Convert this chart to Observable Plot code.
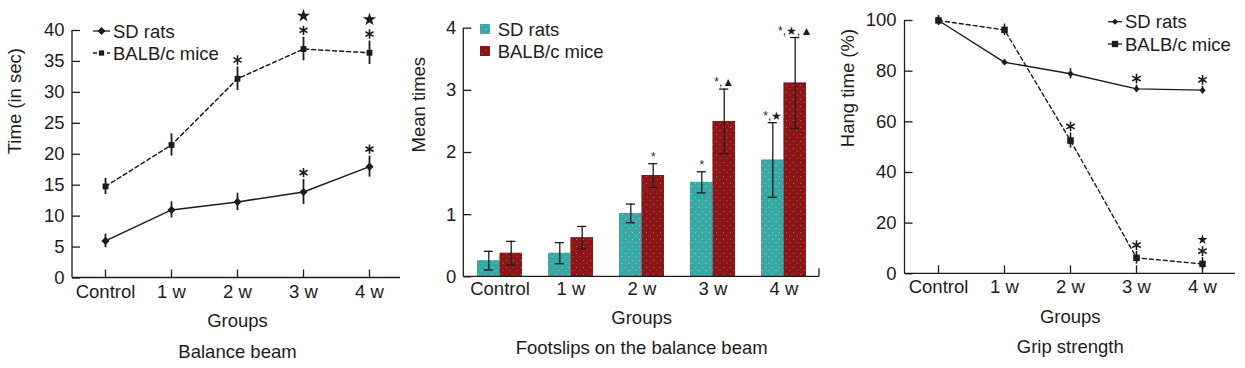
<!DOCTYPE html>
<html><head><meta charset="utf-8">
<script src="https://cdn.jsdelivr.net/npm/d3@7"></script>
<script src="https://cdn.jsdelivr.net/npm/@observablehq/plot@0.6"></script>
<style>
body{margin:0;background:#fff;}
#wrap{position:relative;width:1245px;height:368px;overflow:hidden;background:#fff;}
#wrap > div{position:absolute;top:0;}
</style></head><body>
<div id="wrap"><div id="p1" style="left:0px"></div><div id="p2" style="left:400px"></div><div id="p3" style="left:820px"></div></div>
<script>
// ---------- data ----------
const groups = ["Control", "1 w", "2 w", "3 w", "4 w"];
const seriesNames = ["SD rats", "BALB/c mice"];

// Balance beam: time (in sec)
const beamSD = [6.0, 11.0, 12.3, 13.9, 18.0];
const beamSDErr = [1.1, 1.3, 1.4, 2.0, 1.7];
const beamBALB = [14.8, 21.5, 32.2, 37.0, 36.4];
const beamBALBErr = [1.3, 1.8, 1.9, 1.9, 1.9];
const beamTicks = [0, 5, 10, 15, 20, 25, 30, 35, 40];
const beamSig = [["3 w", "SD rats", "*"], ["4 w", "SD rats", "*"], ["2 w", "BALB/c mice", "*"], ["3 w", "BALB/c mice", "*★"], ["4 w", "BALB/c mice", "*★"]];

// Footslips on the balance beam: mean times
const footSD = [0.26, 0.38, 1.02, 1.52, 1.88];
const footSDErr = [0.15, 0.17, 0.15, 0.17, 0.6];
const footBALB = [0.38, 0.63, 1.63, 2.5, 3.12];
const footBALBErr = [0.19, 0.18, 0.19, 0.52, 0.73];
const footTicks = [0, 1, 2, 3, 4];
const footSig = [["2 w", "BALB/c mice", "*"], ["3 w", "SD rats", "*"], ["3 w", "BALB/c mice", "*,▲"], ["4 w", "SD rats", "*,★"], ["4 w", "BALB/c mice", "*,★,▲"]];

// Grip strength: hang time (%)
const gripSD = [100, 83.5, 79, 73, 72.5];
const gripSDErr = [1.5, 1.0, 2.0, 1.5, 1.5];
const gripBALB = [100, 96.3, 52.6, 6.3, 3.9];
const gripBALBErr = [2.0, 2.3, 3.0, 2.5, 2.5];
const gripTicks = [0, 20, 40, 60, 80, 100];
const gripSig = [["3 w", "SD rats", "*"], ["4 w", "SD rats", "*"], ["2 w", "BALB/c mice", "*"], ["3 w", "BALB/c mice", "*"], ["4 w", "BALB/c mice", "*★"]];

// ---------- helpers ----------
const FONT = '"Liberation Sans", Arial, Helvetica, sans-serif';
const INK = "#1f1b1c";
const TEAL = "#38a8a4";
const RED = "#8c1518";
const FS = 18.5;
const H = 368;

function rows(vals, errs, s) {
  return groups.map((g, i) => ({group: g, series: s, value: vals[i], err: errs[i], top: vals[i] + errs[i], bottom: vals[i] - errs[i]}));
}
function sigRows(sig, data, ch) {
  return sig.filter(d => d[2].includes(ch)).map(([g, s, lab]) => {
    const r = data.find(d => d.group === g && d.series === s);
    return {...r, label: lab};
  });
}
function axisFrame(opts = {}) {
  return (index, scales, values, dims) => {
    const {width, height, marginLeft: ml, marginRight: mr, marginTop: mt, marginBottom: mb} = dims;
    const g = d3.create("svg:g").attr("stroke", INK).attr("stroke-width", 1.3).attr("fill", "none");
    g.append("line").attr("x1", ml).attr("x2", ml).attr("y1", mt).attr("y2", height - mb);
    g.append("line").attr("x1", ml).attr("x2", width - mr).attr("y1", height - mb).attr("y2", height - mb);
    if (opts.endTick) g.append("line").attr("x1", width - mr).attr("x2", width - mr).attr("y1", height - mb - 8).attr("y2", height - mb);
    return g.node();
  };
}
function lineLegend(items, {x, y, step, len}) {
  return () => {
    const g = d3.create("svg:g");
    items.forEach((it, i) => {
      const yy = y + i * step;
      g.append("line").attr("x1", x).attr("x2", x + len).attr("y1", yy).attr("y2", yy)
        .attr("stroke", INK).attr("stroke-width", 1.3).attr("stroke-dasharray", it.dash || null);
      g.append("path").attr("d", d3.symbol(it.symbol, it.size)())
        .attr("transform", `translate(${x + len / 2},${yy})`).attr("fill", INK);
      g.append("text").attr("x", x + len + 3).attr("y", yy).attr("dy", "0.36em")
        .attr("text-anchor", "start").attr("font-size", FS).attr("fill", INK).text(it.label);
    });
    return g.node();
  };
}
function boxLegend(items, {x, y, step, size, gap}) {
  return () => {
    const g = d3.create("svg:g");
    items.forEach((it, i) => {
      const yy = y + i * step;
      g.append("rect").attr("x", x).attr("y", yy - size / 2).attr("width", size).attr("height", size).attr("fill", it.fill);
      g.append("text").attr("x", x + size + gap).attr("y", yy).attr("dy", "0.36em")
        .attr("text-anchor", "start").attr("font-size", FS).attr("fill", INK).text(it.label);
    });
    return g.node();
  };
}
function patterns() {
  return () => {
    const defs = d3.create("svg:defs");
    const mk = (id, bg, dot, dot2) => {
      const p = defs.append("pattern").attr("id", id).attr("patternUnits", "userSpaceOnUse").attr("width", 7).attr("height", 7);
      p.append("rect").attr("width", 7).attr("height", 7).attr("fill", bg);
      p.append("rect").attr("x", 1).attr("y", 1).attr("width", 1).attr("height", 1).attr("fill", dot).attr("opacity", 0.75);
      p.append("rect").attr("x", 4.5).attr("y", 4).attr("width", 1).attr("height", 1).attr("fill", dot2).attr("opacity", 0.6);
    };
    mk("patTeal", TEAL, "#e7b7c4", "#cfe9e6");
    mk("patRed", RED, "#8fa06a", "#c07a6a");
    return defs.node();
  };
}
function style() {
  return {fontFamily: FONT, fontSize: FS + "px", color: INK, background: "white", overflow: "visible"};
}

// ---------- Panel 1: Balance beam ----------
(() => {
  const sd = rows(beamSD, beamSDErr, seriesNames[0]);
  const mb = rows(beamBALB, beamBALBErr, seriesNames[1]);
  const all = sd.concat(mb);
  const W = 410, ml = 72, mr = 8, mt = 30, mbm = 90.5;
  const fw = W - ml - mr, fh = H - mt - mbm;
  const chart = Plot.plot({
    width: W, height: H, marginLeft: ml, marginRight: mr, marginTop: mt, marginBottom: mbm,
    x: {type: "point", domain: groups, padding: 0.5, axis: null},
    y: {domain: [0, 40], axis: null},
    style: style(),
    marks: [
      axisFrame(),
      Plot.tickY(beamTicks, {y: d => d, insetRight: fw - 8, stroke: INK, strokeWidth: 1.3}),
      Plot.tickX(groups, {x: d => d, insetTop: fh - 8, stroke: INK, strokeWidth: 1.3}),
      Plot.axisY({ticks: beamTicks, tickSize: 0, tickPadding: 8, fontSize: FS, label: null, tickFormat: d3.format("d")}),
      Plot.text(groups, {x: d => d, text: d => d, frameAnchor: "bottom", dy: 19.5, fontSize: FS, fill: INK}),
      Plot.line(sd, {x: "group", y: "value", stroke: INK, strokeWidth: 1.5}),
      Plot.line(mb, {x: "group", y: "value", stroke: INK, strokeWidth: 1.5, strokeDasharray: "4,3"}),
      Plot.ruleX(all, {x: "group", y1: "bottom", y2: "top", stroke: INK, strokeWidth: 1.8}),
      Plot.dot(sd, {x: "group", y: "value", symbol: "diamond2", r: 3.7, fill: INK}),
      Plot.dot(mb, {x: "group", y: "value", symbol: "square", r: 3.3, fill: INK}),
      Plot.dot(sigRows(beamSig, all, "*"), {x: "group", y: "top", dy: -7, symbol: "asterisk", r: 4.4, stroke: INK, strokeWidth: 1.6, fill: "none"}),
      Plot.dot(sigRows(beamSig, all, "★"), {x: "group", y: "top", dy: -21.5, symbol: "star", r: 4.2, fill: INK}),
      lineLegend([
        {label: seriesNames[0], symbol: d3.symbolDiamond2, size: 40},
        {label: seriesNames[1], symbol: d3.symbolSquare, size: 28, dash: "4,3"}
      ], {x: 93, y: 31, step: 22, len: 17}),
      Plot.text(["Time (in sec)"], {text: d => d, frameAnchor: "left", rotate: -90, dx: -57, fontSize: FS, fill: INK}),
      Plot.text(["Groups"], {text: d => d, frameAnchor: "bottom", dy: 49, fontSize: FS, fill: INK}),
      Plot.text(["Balance beam"], {text: d => d, frameAnchor: "bottom", dy: 80, fontSize: FS, fill: INK})
    ]
  });
  document.getElementById("p1").append(chart);
})();

// ---------- Panel 2: Footslips ----------
(() => {
  const sd = rows(footSD, footSDErr, seriesNames[0]);
  const mb = rows(footBALB, footBALBErr, seriesNames[1]);
  const W = 425, ml = 63.3, mr = 6, mt = 27.7, mbm = 91.7;
  const fw = W - ml - mr, fh = H - mt - mbm;
  const pin = 0.37;
  const bw = fw / groups.length * (1 - pin);
  const half = bw / 2, cap = 4.5;
  const cSD = half / 2, cMB = half + half / 2;
  const capSD = {insetLeft: cSD - cap, insetRight: bw - cSD - cap};
  const capMB = {insetLeft: cMB - cap, insetRight: bw - cMB - cap};
  const chart = Plot.plot({
    width: W, height: H, marginLeft: ml, marginRight: mr, marginTop: mt, marginBottom: mbm,
    x: {type: "band", domain: groups, paddingInner: pin, paddingOuter: pin / 2, axis: null},
    y: {domain: [0, 4], axis: null},
    style: style(),
    marks: [
      patterns(),
      Plot.barY(sd, {x: "group", y: "value", fill: "url(#patTeal)", insetRight: half}),
      Plot.barY(mb, {x: "group", y: "value", fill: "url(#patRed)", insetLeft: half}),
      axisFrame({endTick: true}),
      Plot.tickY(footTicks, {y: d => d, insetRight: fw - 8, stroke: INK, strokeWidth: 1.3}),
      Plot.axisY({ticks: footTicks, tickSize: 0, tickPadding: 7.5, fontSize: FS, label: null, tickFormat: d3.format("d")}),
      Plot.text(groups, {x: d => d, text: d => d, frameAnchor: "bottom", dy: 18, fontSize: FS, fill: INK}),
      Plot.ruleX(sd, {x: "group", y1: "bottom", y2: "top", dx: cSD - half, stroke: INK, strokeWidth: 1.3}),
      Plot.ruleX(mb, {x: "group", y1: "bottom", y2: "top", dx: cMB - half, stroke: INK, strokeWidth: 1.3}),
      Plot.tickY(sd, {x: "group", y: "top", ...capSD, stroke: INK, strokeWidth: 1.3}),
      Plot.tickY(sd, {x: "group", y: "bottom", ...capSD, stroke: INK, strokeWidth: 1.3}),
      Plot.tickY(mb, {x: "group", y: "top", ...capMB, stroke: INK, strokeWidth: 1.3}),
      Plot.tickY(mb, {x: "group", y: "bottom", ...capMB, stroke: INK, strokeWidth: 1.3}),
      Plot.text(sigRows(footSig, sd, "*"), {x: "group", y: "top", text: "label", dx: cSD - half, dy: -3, lineAnchor: "bottom", fontSize: 12, fill: INK}),
      Plot.text(sigRows(footSig, mb, "*"), {x: "group", y: "top", text: "label", dx: cMB - half, dy: -3, lineAnchor: "bottom", fontSize: 12, fill: INK}),
      boxLegend([
        {label: seriesNames[0], fill: "url(#patTeal)"},
        {label: seriesNames[1], fill: "url(#patRed)"}
      ], {x: 80, y: 29, step: 22, size: 10, gap: 7.7}),
      Plot.text(["Mean times"], {text: d => d, frameAnchor: "left", rotate: -90, dx: -44.3, fontSize: FS, fill: INK}),
      Plot.text(["Groups"], {text: d => d, frameAnchor: "bottom", dy: 47, fontSize: FS, fill: INK}),
      Plot.text(["Footslips on the balance beam"], {text: d => d, frameAnchor: "bottom", dy: 77.5, fontSize: FS, fill: INK})
    ]
  });
  document.getElementById("p2").append(chart);
})();

// ---------- Panel 3: Grip strength ----------
(() => {
  const sd = rows(gripSD, gripSDErr, seriesNames[0]);
  const mb = rows(gripBALB, gripBALBErr, seriesNames[1]);
  const all = sd.concat(mb);
  const W = 425, ml = 84.5, mr = 10, mt = 20, mbm = 94.7;
  const fw = W - ml - mr, fh = H - mt - mbm;
  const chart = Plot.plot({
    width: W, height: H, marginLeft: ml, marginRight: mr, marginTop: mt, marginBottom: mbm,
    x: {type: "point", domain: groups, padding: 0.5, axis: null},
    y: {domain: [0, 100], axis: null},
    style: style(),
    marks: [
      axisFrame(),
      Plot.tickY(gripTicks, {y: d => d, insetRight: fw - 8, stroke: INK, strokeWidth: 1.3}),
      Plot.tickX(groups, {x: d => d, insetTop: fh - 8, stroke: INK, strokeWidth: 1.3}),
      Plot.axisY({ticks: gripTicks, tickSize: 0, tickPadding: 8.5, fontSize: FS, label: null, tickFormat: d3.format("d")}),
      Plot.text(groups, {x: d => d, text: d => d, frameAnchor: "bottom", dy: 19.5, fontSize: FS, fill: INK}),
      Plot.line(sd, {x: "group", y: "value", stroke: INK, strokeWidth: 1.4}),
      Plot.line(mb, {x: "group", y: "value", stroke: INK, strokeWidth: 1.4, strokeDasharray: "4,3"}),
      Plot.ruleX(all, {x: "group", y1: "bottom", y2: "top", stroke: INK, strokeWidth: 1.6}),
      Plot.dot(sd, {x: "group", y: "value", symbol: "diamond2", r: 2.9, fill: INK}),
      Plot.dot(mb, {x: "group", y: "value", symbol: "square", r: 3.7, fill: INK}),
      Plot.dot(sigRows(gripSig, all, "*"), {x: "group", y: "top", dy: -6.5, symbol: "asterisk", r: 4.6, stroke: INK, strokeWidth: 1.6, fill: "none"}),
      Plot.dot(sigRows(gripSig, all, "★"), {x: "group", y: "top", dy: -18, symbol: "star", r: 3.2, fill: INK}),
      lineLegend([
        {label: seriesNames[0], symbol: d3.symbolDiamond2, size: 24},
        {label: seriesNames[1], symbol: d3.symbolSquare, size: 40}
      ], {x: 288, y: 21.7, step: 22.3, len: 14}),
      Plot.text(["Hang time (%)"], {text: d => d, frameAnchor: "left", rotate: -90, dx: -56.5, fontSize: FS, fill: INK}),
      Plot.text(["Groups"], {text: d => d, frameAnchor: "bottom", dy: 48.8, fontSize: FS, fill: INK}),
      Plot.text(["Grip strength"], {text: d => d, frameAnchor: "bottom", dy: 78.8, fontSize: FS, fill: INK})
    ]
  });
  document.getElementById("p3").append(chart);
})();
</script>
</body></html>
